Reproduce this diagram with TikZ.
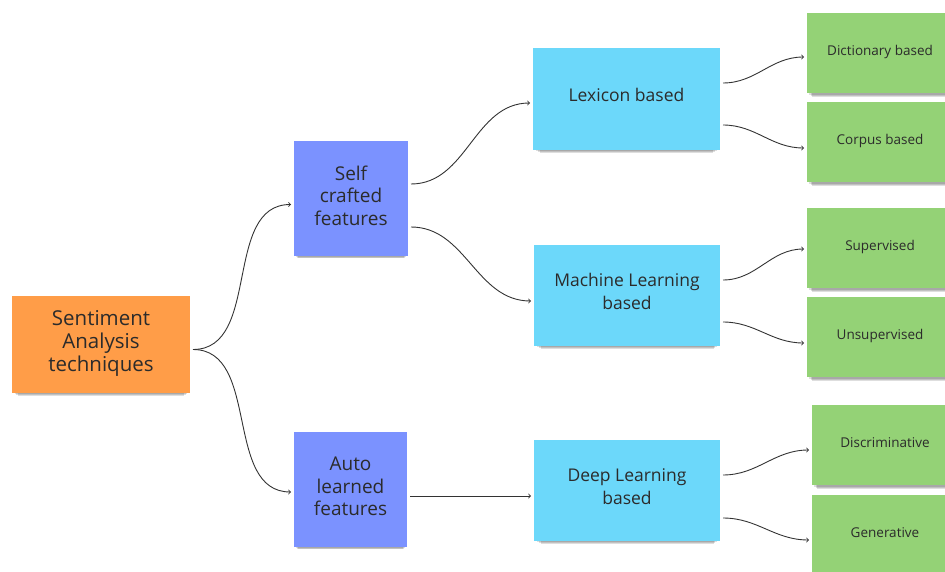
\documentclass[tikz,border=0pt]{standalone}
\usepackage{fontspec}
\setmainfont{Open Sans}
\usetikzlibrary{shadows}
\definecolor{noteOrange}{HTML}{FF9D48}
\definecolor{notePurple}{HTML}{7B92FF}
\definecolor{noteBlue}{HTML}{6CD8FA}
\definecolor{noteGreen}{HTML}{94D276}
\definecolor{noteText}{HTML}{2B2B2B}
\definecolor{lineGray}{HTML}{333333}

\begin{document}
\begin{tikzpicture}[x=1pt,y=-1pt,
  note/.style={align=center, text=noteText, inner sep=0pt, outer sep=3pt,
    general shadow={fill=black, opacity=0.13, shadow yshift=-3pt, shadow scale=0.97},
    general shadow={fill=black, opacity=0.13, shadow yshift=-5pt, shadow scale=0.95},
    general shadow={fill=black, opacity=0.13, shadow yshift=-7pt, shadow scale=0.93}},
  big/.style={note, minimum width=#1, text depth=6pt, font=\fontsize{19}{22.5}\selectfont},
  mid/.style={note, minimum width=186pt, minimum height=101pt, fill=noteBlue, text depth=8pt, font=\fontsize{17.5}{23.5}\selectfont},
  leaf/.style={note, minimum width=146pt, minimum height=80pt, fill=noteGreen, text depth=5pt, font=\fontsize{13.5}{16}\selectfont},
  arr/.style={->, line width=0.9pt, draw=lineGray}]
\useasboundingbox (0,0) rectangle (945,572);
%ROOT
\node[big=178pt, minimum height=97pt, fill=noteOrange, text depth=8pt, font=\fontsize{20.5}{23}\selectfont] (sat) at (101,344.5) {Sentiment\\Analysis\\techniques};
%FEATURES
\node[big=114pt, minimum height=115pt, fill=notePurple] (self) at (351,198.5) {Self\\crafted\\features};
\node[big=113pt, minimum height=115pt, fill=notePurple] (auto) at (350.5,489.5) {Auto\\learned\\features};
%METHODS
\node[mid, minimum width=187pt, minimum height=102pt] (lex) at (626.5,99) {Lexicon based};
\node[mid] (ml) at (627,295.5) {Machine Learning\\based};
\node[mid] (dl) at (627,490.5) {Deep Learning\\based};
%LEAVES
\node[leaf] (dict) at (880,53) {Dictionary based};
\node[leaf] (corp) at (880,142) {Corpus based};
\node[leaf] (sup) at (880,248) {Supervised};
\node[leaf] (unsup) at (880,337) {Unsupervised};
\node[leaf] (disc) at (885,445) {Discriminative};
\node[leaf] (gen) at (885,535) {Generative};
% Arrows
\draw[arr] ([yshift=-5pt]sat.east) to[out=0,in=180] ([yshift=-6pt]self.west);
\draw[arr] ([yshift=-5pt]sat.east) to[out=0,in=180] ([yshift=-2.5pt]auto.west);
\draw[arr] ([yshift=14.5pt]self.east) to[out=0,in=180] ([yshift=-4pt]lex.west);
\draw[arr] ([yshift=-28.5pt]self.east) to[out=0,in=180] ([yshift=-5.5pt]ml.west);
\draw[arr] ([yshift=-6.5pt]auto.east) -- ([yshift=-5.5pt]dl.west);
\draw[arr] ([yshift=16pt]lex.east) to[out=0,in=180] ([yshift=-4pt]dict.west);
\draw[arr] ([yshift=-26pt]lex.east) to[out=0,in=180] ([yshift=-6pt]corp.west);
\draw[arr] ([yshift=15.5pt]ml.east) to[out=0,in=180] ([yshift=-1pt]sup.west);
\draw[arr] ([yshift=-26.5pt]ml.east) to[out=0,in=180] ([yshift=-6pt]unsup.west);
\draw[arr] ([yshift=15.5pt]dl.east) to[out=0,in=180] ([yshift=-5pt]disc.west);
\draw[arr] ([yshift=-27.5pt]dl.east) to[out=0,in=180] ([yshift=-5pt]gen.west);
\end{tikzpicture}
\end{document}
